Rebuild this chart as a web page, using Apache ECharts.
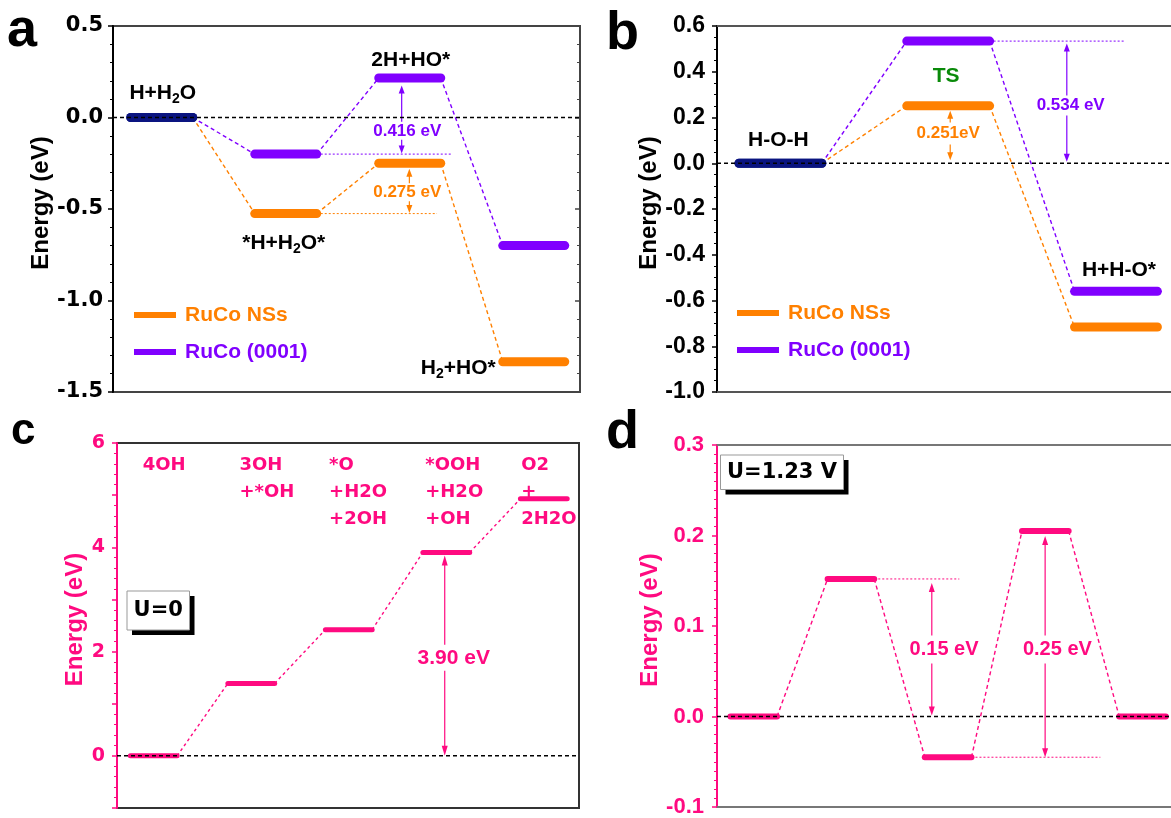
<!DOCTYPE html>
<html>
<head>
<meta charset="utf-8">
<script src="https://cdn.jsdelivr.net/npm/echarts@6/dist/echarts.min.js"></script>
<style>
  html, body { margin: 0; padding: 0; background: #fff; }
  #chart { width: 1171px; height: 818px; }
</style>
</head>
<body>
<div id="chart"></div>
<script>
// colours and fonts
const ORANGE = '#ff8000', PURPLE = '#8000ff', NAVY = '#0a1480', PINK = '#ff0a80', GREEN = '#0a8a0a';
const ARIAL = '"Liberation Sans", Arial, sans-serif';
const DEJAVU = '"DejaVu Sans", Verdana, sans-serif';

// ---- data ----
// panel a
const aStates = ['H+H2O', '*H+H2O*', '2H+HO*', 'H2+HO*'];
const aNSs = [0, -0.525, -0.25, -1.335];
const a0001 = [0, -0.2, 0.216, -0.7];
const aGaps = ['0.416 eV', '0.275 eV'];
const aTicks = [-1.5, -1.0, -0.5, 0.0, 0.5];
// panel b
const bStates = ['H-O-H', 'TS', 'H+H-O*'];
const bNSs = [0, 0.251, -0.716];
const b0001 = [0, 0.534, -0.56];
const bGaps = ['0.534 eV', '0.251eV'];
const bTicks = [-1.0, -0.8, -0.6, -0.4, -0.2, 0.0, 0.2, 0.4, 0.6];
// panel c
const cStates = ['4OH', '3OH\n+*OH', '*O\n+H2O\n+2OH', '*OOH\n+H2O\n+OH', 'O2\n+\n2H2O'];
const cU0 = [0, 1.39, 2.42, 3.90, 4.93];
const cGaps = ['3.90 eV'];
const cTicks = [0, 2, 4, 6];
// panel d
const dU123 = [0, 0.152, -0.045, 0.205, 0];
const dGaps = ['0.15 eV', '0.25 eV'];
const dTicks = [-0.1, 0.0, 0.1, 0.2, 0.3];

const series1 = 'RuCo NSs', series2 = 'RuCo (0001)';

// x ranges (state index units) and level half widths per panel
const X = { a: [-0.393, 3.373], b: [-0.378, 2.328], c: [-0.377, 4.361], d: [-0.378, 4.293] };
const HW = { a: 0.25, b: 0.247, c: 0.24, d: 0.24 };
const yIdx = [0, 2, 3, 4];

function fmt1(v) { return Math.abs(v) < 1e-9 ? '0.0' : v.toFixed(1); }

function seg(api, xa, ya, xb, yb, color, w, dash) {
  const p = api.coord([xa, ya]), q = api.coord([xb, yb]);
  return { type: 'line', shape: { x1: p[0], y1: p[1], x2: q[0], y2: q[1] },
    style: { stroke: color, lineWidth: w, lineDash: dash || null } };
}

function label(api, x, y, str, dx, dy, style) {
  const p = api.coord([x, y]);
  return { type: 'text', x: p[0] + dx, y: p[1] + dy,
    style: Object.assign({ text: str, fill: '#000', fontFamily: ARIAL, fontWeight: 'bold',
      fontSize: 21, align: 'center', verticalAlign: 'middle' }, style || {}) };
}

// H2O -> H{sub}2O
function richSub(s) {
  return '{n|' + s.replace(/([A-Za-z])(\d+)/g, '$1}{s|$2}{n|') + '}';
}
const subRich = {
  n: { fontSize: 21, lineHeight: 26, fontFamily: ARIAL, fontWeight: 'bold', fill: '#000' },
  s: { fontSize: 14, lineHeight: 12, verticalAlign: 'bottom', fontFamily: ARIAL, fontWeight: 'bold', fill: '#000' }
};

function arrow(api, x, vTop, vBot, vMid, color, o) {
  const t = api.coord([x, vTop]), b = api.coord([x, vBot]), m = api.coord([x, vMid]);
  const px = t[0], yt = t[1] + o.padTop, yb = b[1] - o.padBot;
  const h = o.head || 8, w = o.half || 3;
  const st = { stroke: color, lineWidth: 1.2 };
  return [
    { type: 'line', shape: { x1: px, y1: m[1] - o.gap, x2: px, y2: yt + h - 1 }, style: st },
    { type: 'polygon', shape: { points: [[px, yt], [px - w, yt + h], [px + w, yt + h]] }, style: { fill: color } },
    { type: 'line', shape: { x1: px, y1: m[1] + o.gap, x2: px, y2: yb - h + 1 }, style: st },
    { type: 'polygon', shape: { points: [[px, yb], [px - w, yb - h], [px + w, yb - h]] }, style: { fill: color } }
  ];
}

function levelSeries(name, gi, vals, color, hw, lw, firstColor, dash) {
  return {
    type: 'custom', name: name, coordinateSystem: 'cartesian2d',
    xAxisIndex: gi, yAxisIndex: yIdx[gi], z: 2, silent: true,
    itemStyle: { color: color },
    data: vals.map(function (v, i) { return [i, v]; }),
    renderItem: function (params, api) {
      const i = api.value(0), v = api.value(1);
      const p = api.coord([i - hw, v]), q = api.coord([i + hw, v]);
      const kids = [];
      if (i < vals.length - 1) {
        const r = api.coord([i + 1 - hw, vals[i + 1]]);
        kids.push({ type: 'line', shape: { x1: q[0], y1: q[1], x2: r[0], y2: r[1] },
          style: { stroke: color, lineWidth: 1.4, lineDash: dash } });
      }
      kids.push({ type: 'line', shape: { x1: p[0], y1: p[1], x2: q[0], y2: q[1] },
        style: { stroke: (i === 0 && firstColor) ? firstColor : color, lineWidth: lw, lineCap: 'round' } });
      return { type: 'group', children: kids };
    }
  };
}

function annotSeries(gi, build) {
  return {
    type: 'custom', coordinateSystem: 'cartesian2d', xAxisIndex: gi, yAxisIndex: yIdx[gi],
    z: 3, silent: true, data: [[0, 0]],
    renderItem: function (params, api) { return { type: 'group', children: build(api) }; }
  };
}

// ---- annotations ----
function annotA(api) {
  const k = [];
  k.push(seg(api, 1 + HW.a, a0001[1], 2.34, a0001[1], PURPLE, 1, [2, 2]));
  k.push(seg(api, 1 + HW.a, aNSs[1], 2.22, aNSs[1], ORANGE, 1, [2, 2]));
  k.push.apply(k, arrow(api, 1.935, a0001[2], a0001[1], -0.073, PURPLE, { padTop: 7.5, padBot: 0.5, gap: 9 }));
  k.push.apply(k, arrow(api, 1.997, aNSs[2], aNSs[1], -0.408, ORANGE, { padTop: 5.5, padBot: 0.5, gap: 9 }));
  k.push(label(api, 1.98, -0.073, aGaps[0], 0, 0, { fill: PURPLE, fontSize: 17 }));
  k.push(label(api, 1.98, -0.408, aGaps[1], 0, 0, { fill: ORANGE, fontSize: 17 }));
  k.push(label(api, 0, a0001[0], richSub(aStates[0]), 1, -24, { rich: subRich }));
  k.push(label(api, 1, aNSs[1], richSub(aStates[1]), -2, 30, { rich: subRich }));
  k.push(label(api, 2, a0001[2], richSub(aStates[2]), 1, -18, { rich: subRich }));
  k.push(label(api, 3 - HW.a, aNSs[3], richSub(aStates[3]), -7, 6, { rich: subRich, align: 'right' }));
  k.push(seg(api, X.a[0], 0, X.a[1], 0, '#000', 1.5, [4, 3]));
  return k;
}

function annotB(api) {
  const k = [];
  k.push(seg(api, 1 + HW.b, b0001[1], 2.055, b0001[1], PURPLE, 1, [2, 2]));
  k.push.apply(k, arrow(api, 1.707, b0001[1], 0, 0.253, PURPLE, { padTop: 2.5, padBot: 1.5, gap: 10 }));
  k.push.apply(k, arrow(api, 1.012, bNSs[1], 0, 0.1305, ORANGE, { padTop: 5, padBot: 3, gap: 11 }));
  k.push(label(api, 1.73, 0.253, bGaps[0], 0, 0, { fill: PURPLE, fontSize: 17 }));
  k.push(label(api, 1.0, 0.1305, bGaps[1], 0, 0, { fill: ORANGE, fontSize: 17 }));
  k.push(label(api, 0, b0001[0], bStates[0], -2, -23, {}));
  k.push(label(api, 1, b0001[1], bStates[1], -2, 35, { fill: GREEN }));
  k.push(label(api, 2, b0001[2], bStates[2], 3, -21, {}));
  k.push(seg(api, X.b[0], 0, X.b[1], 0, '#000', 1.5, [4, 3]));
  return k;
}

function annotC(api) {
  const k = [];
  const lefts = [-0.114, 0.879, 1.798, 2.784, 3.768];
  cStates.forEach(function (s, i) {
    k.push(label(api, lefts[i], 5.84, s, 0, 0, { fill: PINK, fontFamily: DEJAVU, fontSize: 18,
      lineHeight: 27, align: 'left', verticalAlign: 'top' }));
  });
  k.push.apply(k, arrow(api, 2.984, cU0[3], 0, 1.88, PINK, { padTop: 3, padBot: 0, gap: 13, head: 10, half: 3 }));
  k.push(label(api, 3.077, 1.88, cGaps[0], 0, 0, { fill: PINK }));
  k.push(seg(api, X.c[0], 0, X.c[1], 0, '#000', 1.5, [4, 3]));
  return k;
}

function annotD(api) {
  const k = [];
  k.push(seg(api, 1 + HW.d, dU123[1], 2.115, dU123[1], PINK, 1, [2, 2]));
  k.push(seg(api, 2 + HW.d, dU123[2], 3.566, dU123[2], PINK, 1, [2, 2]));
  k.push.apply(k, arrow(api, 1.832, dU123[1], 0, 0.074, PINK, { padTop: 4, padBot: 1, gap: 14, head: 9 }));
  k.push.apply(k, arrow(api, 2.998, dU123[3], dU123[2], 0.074, PINK, { padTop: 5, padBot: 0, gap: 14, head: 9 }));
  k.push(label(api, 1.958, 0.074, dGaps[0], 0, 0, { fill: PINK, fontSize: 20 }));
  k.push(label(api, 3.124, 0.074, dGaps[1], 0, 0, { fill: PINK, fontSize: 20 }));
  k.push(seg(api, X.d[0], 0, X.d[1], 0, '#000', 1.5, [4, 3]));
  return k;
}

// ---- axes ----
function gridOf(left, top, width, height, border) {
  return { left: left, top: top, width: width, height: height, show: !!border,
    borderColor: border || '#000', borderWidth: 2, backgroundColor: 'transparent' };
}
function xAxisOf(gi, r, line, pos) {
  return { type: 'value', gridIndex: gi, min: r[0], max: r[1], position: pos || 'bottom',
    show: !!line,
    axisLine: { show: !!line, onZero: false, lineStyle: { color: line || '#000', width: 2 } },
    axisTick: { show: false }, axisLabel: { show: false }, splitLine: { show: false } };
}
function yAxisOf(gi, ticks, minor, color, font, size, margin, nameGap, fmt) {
  return {
    type: 'value', gridIndex: gi, min: ticks[0], max: ticks[ticks.length - 1],
    interval: ticks[1] - ticks[0],
    axisLine: { show: true, onZero: false, lineStyle: { color: color, width: 2 } },
    axisTick: { show: true, length: 5, lineStyle: { color: color, width: 1.5 } },
    minorTick: { show: true, splitNumber: minor, length: 3, lineStyle: { color: color, width: 1 } },
    splitLine: { show: false },
    axisLabel: { fontFamily: font, fontWeight: 'bold', fontSize: size, color: color, margin: margin,
      showMinLabel: true, showMaxLabel: true, formatter: fmt },
    name: 'Energy (eV)', nameLocation: 'middle', nameGap: nameGap,
    nameTextStyle: { fontFamily: ARIAL, fontWeight: 'bold', fontSize: 24, color: color, padding: [0, 0, 0, 12] }
  };
}

function legendOf(left, top) {
  return {
    left: left, top: top, orient: 'vertical', icon: 'rect', itemWidth: 42, itemHeight: 6, itemGap: 15,
    selectedMode: false,
    textStyle: { fontFamily: ARIAL, fontWeight: 'bold', fontSize: 21, lineHeight: 22, padding: [0, 0, 0, 4] },
    data: [
      { name: series1, itemStyle: { color: ORANGE }, textStyle: { color: ORANGE } },
      { name: series2, itemStyle: { color: PURPLE }, textStyle: { color: PURPLE } }
    ]
  };
}

function uBox(x, y, w, h, str) {
  return { type: 'group', children: [
    { type: 'rect', shape: { x: x + 5, y: y + 5, width: w, height: h }, style: { fill: '#000' } },
    { type: 'rect', shape: { x: x, y: y, width: w, height: h }, style: { fill: '#fff', stroke: '#999', lineWidth: 1 } },
    { type: 'text', x: x + w / 2, y: y + h / 2, style: { text: str, fill: '#000', fontFamily: DEJAVU,
      fontWeight: 'bold', fontSize: 21, align: 'center', verticalAlign: 'middle' } }
  ] };
}
function letter(x, y, str, size) {
  return { type: 'text', x: x, y: y, style: { text: str, fill: '#000', fontFamily: ARIAL,
    fontWeight: 'bold', fontSize: size, align: 'left', verticalAlign: 'middle' } };
}

const chart = echarts.init(document.getElementById('chart'));
chart.setOption({
  animation: false,
  backgroundColor: '#fff',
  grid: [
    gridOf(113, 26, 467, 366, '#444'),
    gridOf(717, 26, 454, 366, null),
    gridOf(117, 443, 462, 365, '#333'),
    gridOf(717, 445, 454, 363, null)
  ],
  xAxis: [
    xAxisOf(0, X.a, null),
    xAxisOf(1, X.b, '#555', 'bottom'),
    xAxisOf(2, X.c, null),
    xAxisOf(3, X.d, '#777', 'bottom'),
    xAxisOf(1, X.b, '#555', 'top'),
    xAxisOf(3, X.d, '#777', 'top')
  ],
  yAxis: [
    yAxisOf(0, aTicks, 5, '#000', DEJAVU, 21, 10, 58, fmt1),
    { type: 'value', gridIndex: 0, position: 'right', min: aTicks[0], max: aTicks[aTicks.length - 1],
      interval: aTicks[1] - aTicks[0],
      axisLine: { show: true, onZero: false, lineStyle: { color: '#444', width: 2 } },
      axisTick: { show: true, inside: true, length: 5, lineStyle: { color: '#444', width: 1.5 } },
      minorTick: { show: true, splitNumber: 5, length: 3, lineStyle: { color: '#444', width: 1 } },
      axisLabel: { show: false }, splitLine: { show: false } },
    yAxisOf(1, bTicks, 4, '#000', ARIAL, 23, 12, 55, fmt1),
    yAxisOf(2, [-1, 0, 1, 2, 3, 4, 5, 6], 5, PINK, DEJAVU, 19, 12, 30,
      function (v) { return cTicks.indexOf(v) >= 0 ? String(v) : ''; }),
    yAxisOf(3, dTicks, 10, PINK, ARIAL, 22, 13, 51, fmt1)
  ],
  legend: [legendOf(129, 299), legendOf(732, 297)],
  series: [
    levelSeries(series1, 0, aNSs, ORANGE, HW.a, 9, NAVY, [4, 3]),
    levelSeries(series2, 0, a0001, PURPLE, HW.a, 9, NAVY, [4, 3]),
    annotSeries(0, annotA),
    levelSeries(series1, 1, bNSs, ORANGE, HW.b, 9, NAVY, [4, 3]),
    levelSeries(series2, 1, b0001, PURPLE, HW.b, 9, NAVY, [4, 3]),
    annotSeries(1, annotB),
    levelSeries('U=0', 2, cU0, PINK, HW.c, 5, null, [3, 3]),
    annotSeries(2, annotC),
    levelSeries('U=1.23 V', 3, dU123, PINK, HW.d, 6, null, [4, 3]),
    annotSeries(3, annotD)
  ],
  graphic: [
    letter(7, 31, 'a', 54),
    letter(606, 34, 'b', 54),
    letter(11, 432, 'c', 44),
    letter(606, 433, 'd', 54),
    uBox(127, 591, 62.5, 39, 'U=0'),
    uBox(720.5, 455, 123, 34.5, 'U=1.23 V')
  ]
});
</script>
</body>
</html>
